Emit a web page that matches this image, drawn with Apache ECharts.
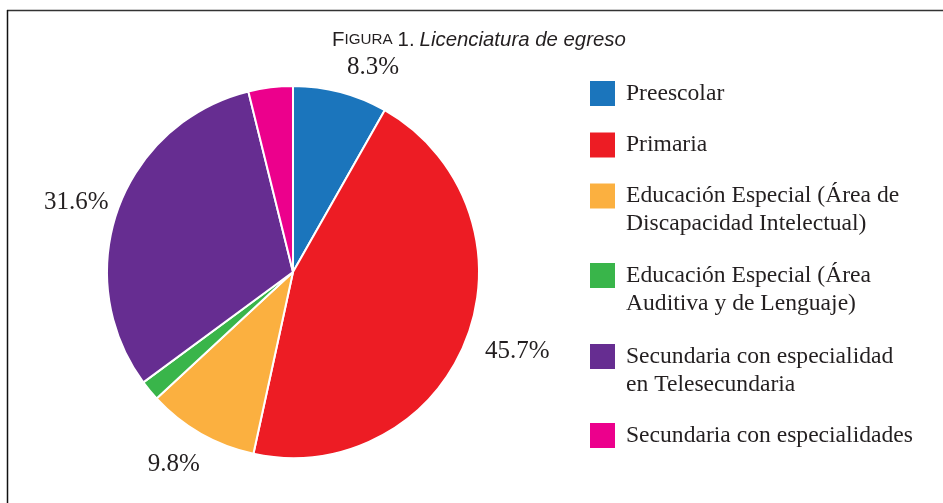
<!DOCTYPE html>
<html>
<head>
<meta charset="utf-8">
<script src="https://cdn.jsdelivr.net/npm/echarts@6/dist/echarts.min.js"></script>
<style>
html,body{margin:0;padding:0;background:#fff;}
#chart{width:943px;height:503px;}
</style>
</head>
<body>
<div id="chart"></div>
<script>
// Data
var categories = [
  'Preescolar',
  'Primaria',
  'Educación Especial (Área de\nDiscapacidad Intelectual)',
  'Educación Especial (Área\nAuditiva y de Lenguaje)',
  'Secundaria con especialidad\nen Telesecundaria',
  'Secundaria con especialidades'
];
var values = [8.3, 45.7, 9.8, 1.8, 31.6, 3.9];
var labelledCategories = ['Preescolar', 'Primaria', categories[2], categories[4]];
var colors = ['#1B75BC', '#ED1C24', '#FBB040', '#39B54A', '#662D91', '#EC008C'];

var serif = '"Liberation Serif", "DejaVu Serif", serif';
var sans = '"Liberation Sans", Arial, sans-serif';
var chart = echarts.init(document.getElementById('chart'));

var pieData = categories.map(function (c, i) {
  return {
    name: c,
    value: values[i],
    itemStyle: { color: colors[i] },
    label: { show: labelledCategories.indexOf(c) >= 0 }
  };
});

// small label nudges (px) by slice index, to match the reference placement
var labelNudge = { 1: [-6, 4], 2: [12, 8], 4: [15, 2] };

// legends: one per item so that multi-line entries keep the square on the first line
var legendCenters = [93.5, 145, 196, 275.5, 356.5, 435.5];
var legends = categories.map(function (c, i) {
  var multi = c.indexOf('\n') >= 0;
  return {
    show: true,
    data: [{ name: c, icon: 'rect' }],
    orient: 'vertical',
    left: 590,
    top: multi ? legendCenters[i] - 42 : legendCenters[i] - 14,
    padding: 0,
    itemWidth: 25,
    itemHeight: 25,
    selectedMode: false,
    formatter: multi ? function (n) { return ' \n' + n; } : '{name}',
    itemStyle: { borderWidth: 0 },
    textStyle: {
      fontFamily: serif,
      fontSize: 23.6,
      color: '#231F20',
      lineHeight: 28,
      padding: [0, 0, 0, 6]
    }
  };
});

chart.setOption({
  animation: false,
  backgroundColor: '#fff',
  title: {
    text: '{a|F}{b|IGURA} {a|1.} {c|Licenciatura de egreso}',
    left: 332,
    top: 30,
    padding: 0,
    textStyle: {
      fontWeight: 'normal',
      rich: {
        a: { fontFamily: sans, fontSize: 20.4, fontWeight: 'normal', color: '#231F20' },
        b: { fontFamily: sans, fontSize: 15.2, fontWeight: 'normal', color: '#231F20' },
        c: { fontFamily: sans, fontSize: 20.4, fontWeight: 'normal', fontStyle: 'italic', color: '#231F20' }
      }
    }
  },
  legend: legends,
  graphic: [
    { type: 'line', shape: { x1: 7, y1: 10.5, x2: 943, y2: 10.5 }, style: { stroke: '#333', lineWidth: 1.5 }, silent: true },
    { type: 'line', shape: { x1: 7.5, y1: 10, x2: 7.5, y2: 503 }, style: { stroke: '#111', lineWidth: 1.5 }, silent: true }
  ],
  series: [{
    type: 'pie',
    center: [293, 272],
    radius: 186,
    startAngle: 90,
    clockwise: true,
    avoidLabelOverlap: false,
    itemStyle: { borderColor: '#fff', borderWidth: 2 },
    label: {
      position: 'outside',
      fontFamily: serif,
      fontSize: 25,
      color: '#231F20',
      distanceToLabelLine: 0,
      formatter: function (p) { return p.value + '%'; }
    },
    labelLine: { show: false, length: 26, length2: 0 },
    labelLayout: function (p) {
      var n = labelNudge[p.dataIndex];
      return n ? { dx: n[0], dy: n[1] } : {};
    },
    emphasis: { disabled: true },
    data: pieData
  }]
});
</script>
</body>
</html>
